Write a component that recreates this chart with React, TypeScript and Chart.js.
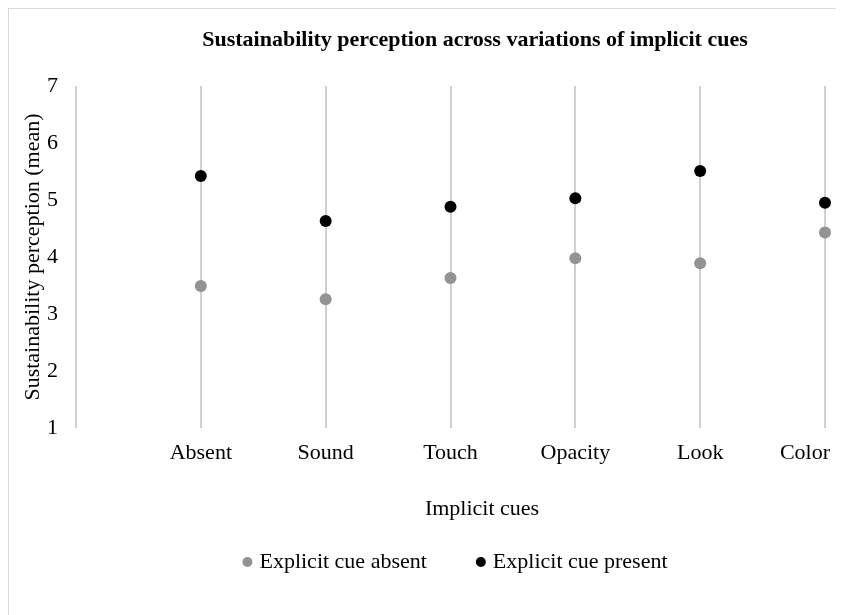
import React, { useEffect, useRef } from 'react';
import { Chart, registerables } from 'chart.js';

Chart.register(...registerables);

const categories = ['Absent', 'Sound', 'Touch', 'Opacity', 'Look', 'Color'];
const explicitAbsent = [3.49, 3.26, 3.63, 3.98, 3.89, 4.43];
const explicitPresent = [5.42, 4.63, 4.88, 5.03, 5.51, 4.95];
const seriesNames = ['Explicit cue absent', 'Explicit cue present'];
const yTicks = [1, 2, 3, 4, 5, 6, 7];
const chartTitle = 'Sustainability perception across variations of implicit cues';
const xTitle = 'Implicit cues';
const yTitle = 'Sustainability perception (mean)';

const FONT = "'Liberation Serif', 'Times New Roman', serif";
const GRID = '#d0d0d0';

const overlay = {
  id: 'overlay',
  afterDraw(chart: any) {
    const ctx = chart.ctx;
    const xs = chart.scales.x;
    ctx.save();
    ctx.fillStyle = '#000';
    ctx.textBaseline = 'middle';
    ctx.textAlign = 'center';
    ctx.font = `22px ${FONT}`;
    categories.forEach((c, i) => {
      const w = ctx.measureText(c).width;
      let px = xs.getPixelForValue(i + 1);
      px = Math.min(px, chart.width - w / 2 - 6);
      ctx.fillText(c, px, chart.chartArea.bottom + 25);
    });
    ctx.fillText(xTitle, 473, 500);
    ctx.font = `bold 22px ${FONT}`;
    ctx.fillText(chartTitle, 466, 31);

    ctx.font = `22px ${FONT}`;
    ctx.textAlign = 'left';
    const items = chart.data.datasets.map((ds: any) => ({
      label: ds.label,
      color: ds.backgroundColor,
      w: ctx.measureText(ds.label).width,
    }));
    const r = 5, gapText = 7, gapItem = 49;
    const total =
      items.reduce((s: number, it: any) => s + 2 * r + gapText + it.w, 0) +
      gapItem * (items.length - 1);
    let x = 446 - total / 2;
    const y = 553;
    items.forEach((it: any) => {
      ctx.fillStyle = it.color;
      ctx.beginPath();
      ctx.arc(x + r, y, r, 0, Math.PI * 2);
      ctx.fill();
      ctx.fillStyle = '#000';
      ctx.fillText(it.label, x + 2 * r + gapText, y);
      x += 2 * r + gapText + it.w + gapItem;
    });
    ctx.restore();
  },
};

export default function App() {
  const ref = useRef<HTMLCanvasElement | null>(null);
  useEffect(() => {
    document.documentElement.style.overflow = 'hidden';
    if (!ref.current) return;
    const chart = new Chart(ref.current, {
      type: 'scatter',
      data: {
        datasets: [
          {
            label: seriesNames[0],
            data: explicitAbsent.map((v, i) => ({ x: i + 1, y: v })),
            backgroundColor: '#939393',
            borderColor: '#939393',
            pointRadius: 6,
            pointBorderWidth: 0,
            clip: false,
          },
          {
            label: seriesNames[1],
            data: explicitPresent.map((v, i) => ({ x: i + 1, y: v })),
            backgroundColor: '#000000',
            borderColor: '#000000',
            pointRadius: 6,
            pointBorderWidth: 0,
            clip: false,
          },
        ],
      },
      options: {
        animation: false,
        responsive: false,
        devicePixelRatio: 1,
        layout: { padding: { top: 77, right: 11, bottom: 179, left: 0 } },
        plugins: {
          legend: { display: false },
          title: { display: false },
          tooltip: { enabled: false },
        },
        scales: {
          x: {
            type: 'linear',
            min: 0,
            max: categories.length,
            ticks: { stepSize: 1, display: false },
            grid: { color: GRID, lineWidth: 2, drawTicks: false },
            border: { display: false },
            afterFit: (s: any) => {
              s.height = 0;
            },
          },
          y: {
            min: yTicks[0],
            max: yTicks[yTicks.length - 1],
            ticks: {
              stepSize: 1,
              padding: 18,
              color: '#000',
              font: { family: FONT, size: 22 },
              callback: (v: any) => (yTicks.includes(Number(v)) ? String(v) : ''),
            },
            grid: { display: false, drawTicks: false },
            border: { display: false },
            title: {
              display: true,
              text: yTitle,
              color: '#000',
              font: { family: FONT, size: 22 },
              padding: { top: 11, bottom: 0 },
            },
            afterFit: (s: any) => {
              s.width = 67;
            },
          },
        },
      },
      plugins: [overlay],
    });
    return () => chart.destroy();
  }, []);
  return (
    <div
      style={{
        borderTop: '1px solid #d9d9d9',
        borderLeft: '1px solid #d9d9d9',
        width: 860,
        height: 640,
      }}
    >
      <canvas ref={ref} width={827} height={598} style={{ display: 'block' }} />
    </div>
  );
}
